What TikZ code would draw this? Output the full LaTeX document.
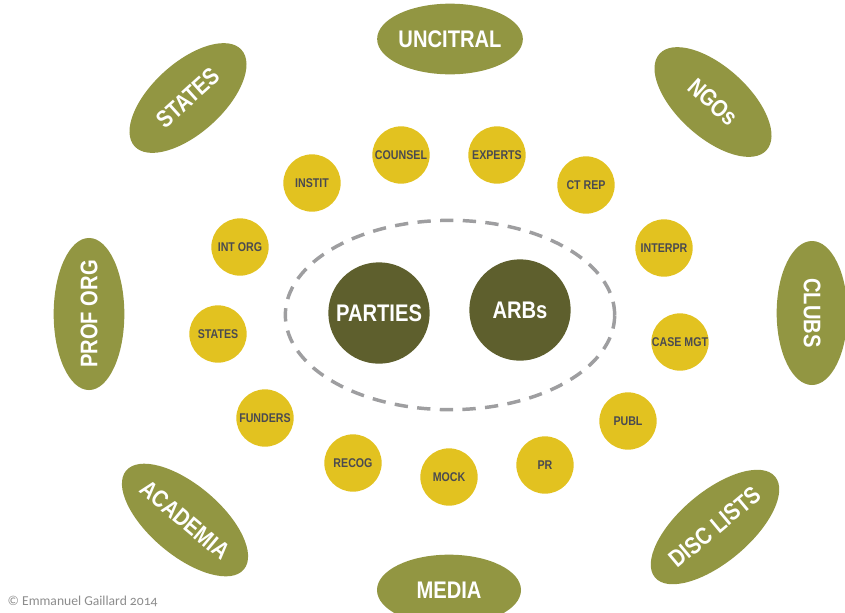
\documentclass[tikz,border=0pt]{standalone}
\usepackage{fontspec}
\setmainfont{Liberation Sans}
\newfontfamily\narrowfont[FakeStretch=0.84]{Liberation Sans}
\newfontfamily\signfont[Numbers=OldStyle]{Carlito}
\usetikzlibrary{shapes.geometric}
\definecolor{leaf}{RGB}{146,150,66}
\definecolor{bark}{RGB}{94,95,45}
\definecolor{ochre}{RGB}{226,194,32}
\definecolor{ink}{RGB}{74,74,80}
\definecolor{ringgray}{RGB}{158,158,160}
\definecolor{signgray}{RGB}{140,140,140}

\begin{document}
\begin{tikzpicture}[x=0.75pt, y=-0.75pt,
	outer/.style={ellipse, fill=leaf, text=white, minimum width=108pt, minimum height=53pt, inner sep=0pt, font=\narrowfont\bfseries\fontsize{18}{18}\selectfont},
	core/.style={circle, fill=bark, text=white, minimum size=76pt, inner sep=0pt, font=\narrowfont\bfseries\fontsize{18}{18}\selectfont},
	sat/.style={circle, fill=ochre, text=ink, minimum size=43pt, inner sep=0pt, font=\narrowfont\bfseries\fontsize{9.5}{9.5}\selectfont},
	ring/.style={ellipse, draw=ringgray, line width=2.6pt, dash pattern=on 10pt off 7pt, minimum width=247pt, minimum height=142pt}]
				\useasboundingbox (0,0) rectangle (845,612);

\node[ring] (n01) at (450,315) {};

\node[core] (n11) at (379,313) {PARTIES};
\node[core] (n12) at (520,310) {ARBs};

\node[sat] (n21) at (401,155) {COUNSEL};
\node[sat] (n22) at (497,155) {EXPERTS};
\node[sat] (n23) at (586,185) {CT REP};
\node[sat] (n24) at (664,248) {INTERPR};
\node[sat] (n25) at (680,342) {CASE MGT};
\node[sat] (n26) at (628,421) {PUBL};
\node[sat] (n27) at (545,465) {PR};
\node[sat] (n28) at (449,477) {MOCK};
\node[sat] (n29) at (353,463) {RECOG};
\node[sat] (n30) at (265,418) {FUNDERS};
\node[sat] (n31) at (218,334) {STATES};
\node[sat] (n32) at (240,247) {INT ORG};
\node[sat] (n33) at (312,183) {INSTIT};

\node[outer] (n41) at (450,39) {UNCITRAL};
\node[outer, rotate=-42] (n42) at (713,102) {NGOs};
\node[outer, rotate=-90] (n43) at (812,313) {CLUBS};
\node[outer, rotate=40] (n44) at (715,527) {DISC LISTS};
\node[outer] (n45) at (449,590) {MEDIA};
\node[outer, rotate=-40] (n46) at (185,520) {ACADEMIA};
\node[outer, rotate=90] (n47) at (89,314) {PROF ORG};
\node[outer, rotate=42] (n48) at (188,98) {STATES};

\node[anchor=west, text=signgray, font=\signfont\fontsize{10.2}{10.2}\selectfont] (n51) at (3,601) {© Emmanuel Gaillard 2014};
			\end{tikzpicture}
\end{document}
